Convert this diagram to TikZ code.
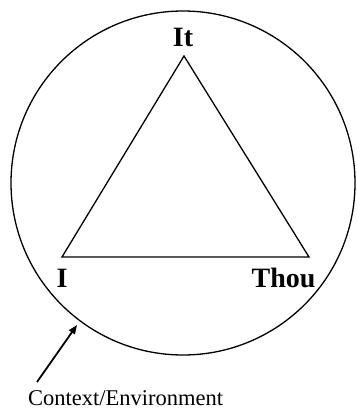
\documentclass[tikz,border=0pt]{standalone}
\usepackage{fontspec}
\setmainfont{Liberation Serif}
\usetikzlibrary{arrows.meta}
\begin{document}
\begin{tikzpicture}[x=1pt,y=-1pt,line width=1.3pt,
  lbl/.style={font=\fontsize{28}{28}\selectfont\bfseries,inner sep=0pt,anchor=base},
  note/.style={font=\fontsize{22.5}{22.5}\selectfont,inner sep=0pt,anchor=base},
  pointer/.style={-{Triangle[length=9pt,width=7pt]},line width=1.8pt}]
\useasboundingbox (0,0) rectangle (356,409);
\fill[white] (0,0) rectangle (356,409);
\node[circle,draw,minimum size=344pt,inner sep=0pt] (ctx) at (183,183) {};
\coordinate (it) at (184,56);
\coordinate (i) at (62,257);
\coordinate (thou) at (309,257);
\draw[line join=miter] (it) -- (thou) -- (i) -- cycle;
\node[lbl] (itl) at (183,47) {It};
\node[lbl] (il) at (62,287) {I};
\node[lbl] (thoul) at (283.5,287) {Thou};
\node[note] (ce) at (125.5,405) {Context/Environment};
\coordinate (tail) at (37,382);
\coordinate (head) at (77,325);
\draw[pointer] (tail) -- (head);
\end{tikzpicture}
\end{document}
